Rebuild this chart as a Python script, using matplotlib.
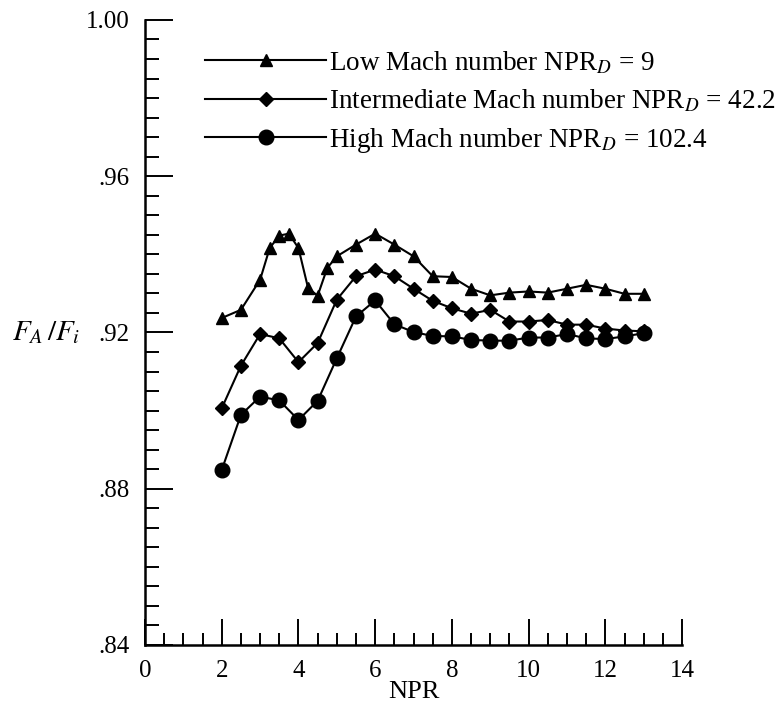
# Thrust ratio F_A/F_i against NPR for three design Mach numbers
import numpy as np
import matplotlib
matplotlib.use('Agg')
from matplotlib import pyplot as plt
from matplotlib.ticker import MultipleLocator, FuncFormatter

plt.rcParams['font.family'] = ['Liberation Serif', 'DejaVu Serif']
plt.rcParams['mathtext.fontset'] = 'stix'

# low Mach number, NPR_D = 9 (triangles)
npr_low = [2, 2.5, 3, 3.25, 3.5, 3.75, 4, 4.25, 4.5, 4.75, 5, 5.5, 6, 6.5, 7,
           7.5, 8, 8.5, 9, 9.5, 10, 10.5, 11, 11.5, 12, 12.5, 13]
fa_low = [0.9237, 0.9258, 0.9335, 0.9416, 0.9448, 0.9453, 0.9416, 0.9314,
          0.9294, 0.9365, 0.9395, 0.9425, 0.9453, 0.9425, 0.9395, 0.9344,
          0.9342, 0.9312, 0.9295, 0.9302, 0.9305, 0.9302, 0.9312, 0.9322,
          0.9312, 0.9299, 0.9299]

# intermediate Mach number, NPR_D = 42.2 (diamonds)
npr_mid = [2, 2.5, 3, 3.5, 4, 4.5, 5, 5.5, 6, 6.5, 7, 7.5, 8, 8.5, 9, 9.5,
           10, 10.5, 11, 11.5, 12, 12.5, 13]
fa_mid = [0.9006, 0.9115, 0.9196, 0.9185, 0.9124, 0.9173, 0.9284, 0.9344,
          0.9361, 0.9344, 0.9312, 0.9281, 0.9262, 0.9248, 0.9258, 0.9228,
          0.9228, 0.9232, 0.9220, 0.9220, 0.9210, 0.9205, 0.9203]

# high Mach number, NPR_D = 102.4 (circles)
npr_high = [2, 2.5, 3, 3.5, 4, 4.5, 5, 5.5, 6, 6.5, 7, 7.5, 8, 8.5, 9, 9.5,
            10, 10.5, 11, 11.5, 12, 12.5, 13]
fa_high = [0.8848, 0.8989, 0.9036, 0.9026, 0.8976, 0.9025, 0.9134, 0.9241,
           0.9282, 0.9221, 0.9201, 0.9191, 0.9190, 0.9181, 0.9179, 0.9179,
           0.9187, 0.9187, 0.9196, 0.9185, 0.9183, 0.9190, 0.9198]

labels = ['Low Mach number NPR$_{D}$ = 9',
          'Intermediate Mach number NPR$_{D}$ = 42.2',
          'High Mach number NPR$_{D}$ = 102.4']

fig = plt.figure(figsize=(7.81, 7.13), dpi=100)
ax = fig.add_axes([0.1857, 0.0954, 0.6876, 0.8766])

ax.plot(npr_low, fa_low, color='black', lw=1.5, marker='^', ms=8.5, label=labels[0])
ax.plot(npr_mid, fa_mid, color='black', lw=1.5, marker='D', ms=7, label=labels[1])
ax.plot(npr_high, fa_high, color='black', lw=1.5, marker='o', ms=10.5, label=labels[2])

ax.set_xlim(0, 14)
ax.set_ylim(0.84, 1.00)

ax.xaxis.set_major_locator(MultipleLocator(2))
ax.xaxis.set_minor_locator(MultipleLocator(0.5))
ax.yaxis.set_major_locator(MultipleLocator(0.04))
ax.yaxis.set_minor_locator(MultipleLocator(0.005))

def ylab(v, pos):
    s = '%.2f' % v
    if s.startswith('0'):
        s = s[1:]
    return s

ax.yaxis.set_major_formatter(FuncFormatter(ylab))

for side in ['top', 'right']:
    ax.spines[side].set_visible(False)
for side in ['left', 'bottom']:
    ax.spines[side].set_linewidth(1.8)

ax.tick_params(axis='both', which='both', direction='in', width=1.4, labelsize=18)
ax.tick_params(axis='y', which='major', length=20, pad=11)
ax.tick_params(axis='y', which='minor', length=10)
ax.tick_params(axis='x', which='major', length=19, pad=11)
ax.tick_params(axis='x', which='minor', length=9)

ax.set_xlabel('NPR', fontsize=19, labelpad=-1)
ax.set_ylabel('$F_A\\,/F_i$', fontsize=21, rotation=0, ha='right', va='center', labelpad=4)

ax.legend(loc='upper left', bbox_to_anchor=(0.1117, 0.953), frameon=False, fontsize=19.5,
          handlelength=4.48, handletextpad=0.1, labelspacing=0.43, numpoints=1,
          borderaxespad=0, borderpad=0)

fig.savefig('out.png', dpi=100)
